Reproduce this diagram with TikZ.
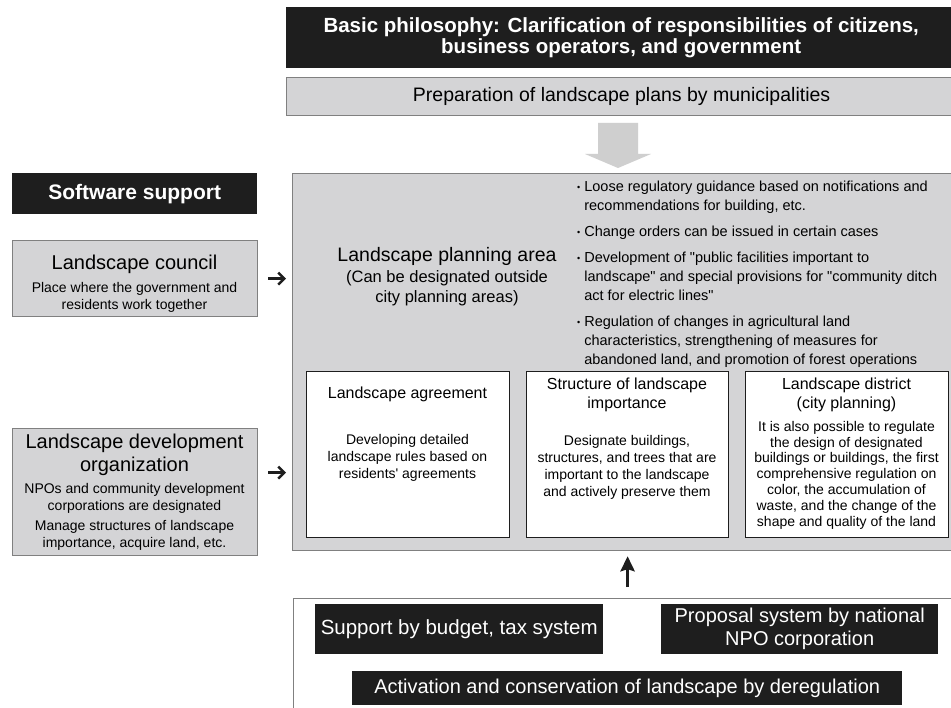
\documentclass[tikz,border=0pt]{standalone}
\usepackage{fontspec}
\setmainfont{Liberation Sans}[Ligatures=TeXOff]
\usetikzlibrary{arrows.meta}
\definecolor{inkblack}{HTML}{1E1E1E}
\definecolor{panelgray}{HTML}{D4D4D6}
\definecolor{rulegray}{HTML}{808080}
\definecolor{arrowgray}{HTML}{CFCFCF}
\newcommand{\fs}[2]{\fontsize{#1}{#2}\selectfont}
\newcommand{\bul}{\raisebox{1pt}{\fs{9}{9}\textbullet}}
\tikzset{
  blackbox/.style={fill=inkblack,text=white,inner sep=0pt,align=center,anchor=north west},
  graybox/.style={fill=panelgray,draw=rulegray,line width=1.2pt,inner sep=0pt,anchor=north west},
  whitebox/.style={fill=white,draw=inkblack,line width=1.2pt,inner sep=0pt,anchor=north west},
  sidearrow/.style={-{Straight Barb[length=6pt,width=12pt]},line width=2.5pt,inkblack},
  uparrow/.style={-{Stealth[length=15pt,width=14pt,inset=2pt]},line width=3.5pt,inkblack},
}
\begin{document}
\begin{tikzpicture}[x=1pt,y=-1pt]
\clip (0,0) rectangle (951,708);
\fill[white] (0,0) rectangle (951,708);
\node[blackbox,minimum width=670,minimum height=61] (basic) at (286,7)
  {\bfseries\fs{20.5}{24}Basic philosophy: Clarification of responsibilities of citizens,\\
   \bfseries\fs{20.5}{24}business operators, and government};
\node[graybox,minimum width=670,minimum height=38,font=\fs{19.5}{22}] (prep) at (286,77)
  {Preparation of landscape plans by municipalities};
\fill[arrowgray] (598,123) -- (638,123) -- (638,154) -- (651,154) -- (618,168)
  -- (585,154) -- (598,154) -- cycle;
% left column
\node[blackbox,minimum width=245,minimum height=41,font=\bfseries\fs{21}{24}] (soft) at (12,173) {Software support};
\node[graybox,minimum width=245,minimum height=76] (council) at (12,240) {};
\node[font=\fs{20}{24}] (counciltitle) at (134.5,264) {Landscape council};
\node[font=\fs{14}{17},align=center] (councilnote) at (134.5,297)
  {Place where the government and\\residents work together};
\node[graybox,minimum width=245,minimum height=127] (dev) at (12,428) {};
\node[font=\fs{20}{23},align=center] (devtitle) at (134.5,455) {Landscape development\\organization};
\node[font=\fs{14}{17},align=center] (devnote) at (134.5,498.5)
  {NPOs and community development\\corporations are designated};
\node[font=\fs{14}{17},align=center] (devtask) at (134.5,535)
  {Manage structures of landscape\\importance, acquire land, etc.};
% planning area
\node[graybox,minimum width=670,minimum height=377] (main) at (292,173) {};
\node[font=\fs{19.5}{22}] (areatitle) at (447,256) {Landscape planning area};
\node[font=\fs{16.5}{20},align=center] (areanote) at (447,288)
  {(Can be designated outside\\city planning areas)};
\node[font=\fs{14.5}{19},anchor=north west,inner sep=0pt] (measures) at (577,178)
  {\begin{tabular}{@{}l@{\hspace{4pt}}l@{}}
   \bul&Loose regulatory guidance based on notifications and\\
    &recommendations for building, etc.\\[7pt]
   \bul&Change orders can be issued in certain cases\\[7pt]
   \bul&Development of "public facilities important to\\
    &landscape" and special provisions for "community ditch\\
    &act for electric lines"\\[7pt]
   \bul&Regulation of changes in agricultural land\\
    &characteristics, strengthening of measures for\\
    &abandoned land, and promotion of forest operations
   \end{tabular}};
\node[whitebox,minimum width=203,minimum height=166] (agree) at (306,371) {};
\node[whitebox,minimum width=202,minimum height=166] (struct) at (526,371) {};
\node[whitebox,minimum width=203,minimum height=166] (district) at (745,371) {};
\node[font=\fs{16}{19}] (agreetitle) at (407.5,394) {Landscape agreement};
\node[font=\fs{14}{17},align=center] (agreenote) at (407.5,458)
  {Developing detailed\\landscape rules based on\\residents' agreements};
\node[font=\fs{16}{19.5},align=center] (structtitle) at (627,395) {Structure of landscape\\importance};
\node[font=\fs{14}{17},align=center] (structnote) at (627,467)
  {Designate buildings,\\structures, and trees that are\\important to the landscape\\and actively preserve them};
\node[font=\fs{16}{19.5},align=center] (districttitle) at (846.5,395) {Landscape district\\(city planning)};
\node[font=\fs{14}{15.8},align=center] (districtnote) at (846.5,475)
  {It is also possible to regulate\\the design of designated\\buildings or buildings, the first\\
   comprehensive regulation on\\color, the accumulation of\\waste, and the change of the\\
   shape and quality of the land};
\draw[sidearrow,shorten <=10pt,shorten >=6pt] (council.east) -- (council.east -| main.west);
\draw[sidearrow,shorten <=10pt,shorten >=6pt] ([yshift=19.5pt]dev.east) -- ([yshift=19.5pt]dev.east -| main.west);
% support measures
\node[fill=white,draw=rulegray,line width=1.2pt,inner sep=0pt,anchor=north west,
  minimum width=670,minimum height=130] (backing) at (293,598) {};
\node[blackbox,minimum width=288,minimum height=50,font=\fs{20.5}{23}] (budget) at (315,604)
  {Support by budget, tax system};
\node[blackbox,minimum width=277,minimum height=50,font=\fs{20}{23}] (proposal) at (661,604)
  {Proposal system by national\\NPO corporation};
\node[blackbox,minimum width=550,minimum height=34,font=\fs{20}{23}] (dereg) at (352,671)
  {Activation and conservation of landscape by deregulation};
\draw[uparrow,shorten <=11pt,shorten >=5pt] (backing.north -| main.south) -- (main.south);
\end{tikzpicture}
\end{document}
